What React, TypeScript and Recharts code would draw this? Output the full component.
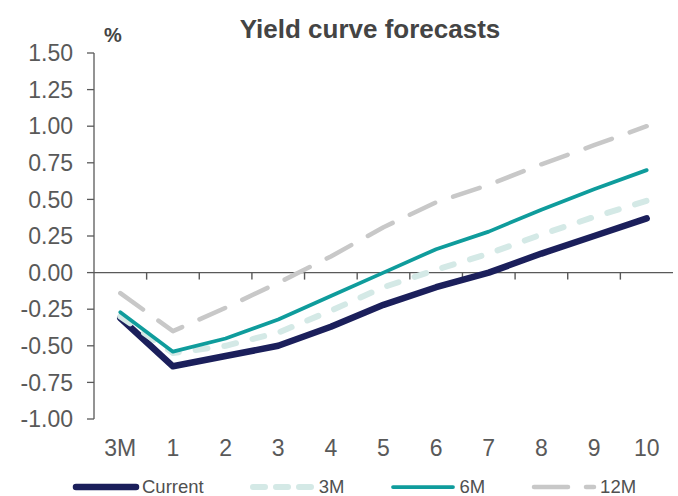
import React from 'react';
import { LineChart, Line, XAxis, YAxis, ReferenceLine } from 'recharts';

const categories = ['3M', '1', '2', '3', '4', '5', '6', '7', '8', '9', '10'];
const currentCurve = [-0.31, -0.64, -0.57, -0.5, -0.37, -0.22, -0.1, 0.0, 0.13, 0.25, 0.37];
const curve3M = [-0.3, -0.55, -0.5, -0.41, -0.26, -0.1, 0.02, 0.13, 0.26, 0.38, 0.49];
const curve6M = [-0.27, -0.54, -0.45, -0.32, -0.16, 0.0, 0.16, 0.28, 0.43, 0.57, 0.7];
const curve12M = [-0.14, -0.4, -0.24, -0.07, 0.11, 0.31, 0.48, 0.6, 0.74, 0.87, 1.0];
const yTicks = [-1, -0.75, -0.5, -0.25, 0, 0.25, 0.5, 0.75, 1, 1.25, 1.5];

const FONT = '"Liberation Sans", Arial, sans-serif';
const AXIS = '#595959';

const series = [
  { key: 'current', name: 'Current', color: '#1b1f5b', width: 6.5, dash: undefined, legendDash: undefined },
  { key: 'm3', name: '3M', color: '#d4e9e6', width: 6, dash: '12 17', legendDash: '12 11' },
  { key: 'm6', name: '6M', color: '#0f9c9c', width: 3.75, dash: undefined, legendDash: undefined },
  { key: 'm12', name: '12M', color: '#c8c8c8', width: 4.5, dash: '28 19', legendDash: '34 18' },
];

const data = categories.map((name, i) => ({
  name,
  current: currentCurve[i],
  m3: curve3M[i],
  m6: curve6M[i],
  m12: curve12M[i],
}));

// zero line acting as the category axis, with ticks between categories
const ZeroAxis = (props: any) => {
  const { x1, y1, x2 } = props;
  const n = categories.length;
  const step = (x2 - x1) / n;
  return (
    <g>
      <line x1={x1} y1={y1} x2={x2} y2={y1} stroke={AXIS} strokeWidth={1.3} />
      {Array.from({ length: n - 1 }, (_, i) => (
        <line key={i} x1={x1 + step * (i + 1)} y1={y1} x2={x1 + step * (i + 1)} y2={y1 + 7} stroke={AXIS} strokeWidth={1.4} />
      ))}
    </g>
  );
};

const tickStyle = { fontFamily: FONT, fontSize: 23, fill: AXIS };

export default function App() {
  return (
    <div style={{ position: 'absolute', left: 0, top: 0, width: 678, height: 496, background: '#fff', fontFamily: FONT }}>
      <LineChart width={678} height={496} data={data} margin={{ top: 53, right: 5, left: 0, bottom: 0 }}>
        <XAxis
          dataKey="name"
          scale="band"
          axisLine={false}
          tickLine={false}
          tickSize={0}
          tickMargin={21}
          height={77}
          tick={tickStyle}
          interval={0}
        />
        <YAxis
          domain={[-1, 1.5]}
          ticks={yTicks}
          tickFormatter={(v: number) => v.toFixed(2)}
          width={94}
          axisLine={{ stroke: AXIS, strokeWidth: 1.3 }}
          tickLine={{ stroke: AXIS, strokeWidth: 1.3 }}
          tickSize={7}
          tickMargin={14}
          tick={tickStyle}
          interval={0}
        />
        <ReferenceLine y={0} shape={ZeroAxis} />
        {series.map((s) => (
          <Line
            key={s.key}
            type="linear"
            dataKey={s.key}
            name={s.name}
            stroke={s.color}
            strokeWidth={s.width}
            strokeDasharray={s.dash}
            strokeLinecap="round"
            strokeLinejoin="round"
            dot={false}
            activeDot={false}
            isAnimationActive={false}
          />
        ))}
      </LineChart>
      <svg width={678} height={60} style={{ position: 'absolute', left: 0, top: 0 }}>
        <text x={370} y={38} textAnchor="middle" fontFamily={FONT} fontWeight="bold" fontSize={26} fill="#444">
          Yield curve forecasts
        </text>
        <text x={104} y={42} fontFamily={FONT} fontWeight="bold" fontSize={20} fill="#444">
          %
        </text>
      </svg>
      <div style={{ position: 'absolute', left: 72, top: 477, display: 'flex', alignItems: 'center', gap: 45 }}>
        {series.map((s) => (
          <div key={s.key} style={{ display: 'flex', alignItems: 'center' }}>
            <svg width={68} height={14}>
              <line
                x1={4}
                y1={7}
                x2={64}
                y2={7}
                stroke={s.color}
                strokeWidth={s.width}
                strokeDasharray={s.legendDash}
                strokeLinecap="round"
              />
            </svg>
            <span style={{ fontSize: 18.5, color: '#505050', marginLeft: 2, lineHeight: '20px' }}>{s.name}</span>
          </div>
        ))}
      </div>
    </div>
  );
}
